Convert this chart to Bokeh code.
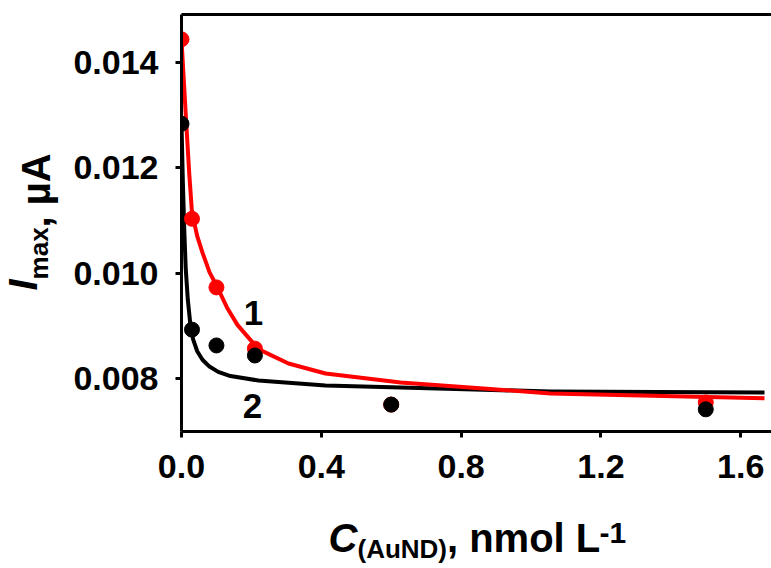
import math
from bokeh.plotting import figure
from bokeh.models import Range1d, FixedTicker, LinearAxis, Label
from bokeh.layouts import row, column
from bokeh.embed import file_html
from bokeh.resources import INLINE

# ---- data ----
conc = [0, 0.03, 0.1, 0.21, 0.6, 1.5]
imax_1 = [0.01443, 0.01103, 0.00973, 0.00857, 0.00751, 0.00755]   # red, series 1
imax_2 = [0.01283, 0.00893, 0.00863, 0.00844, 0.00751, 0.00742]   # black, series 2

fit1_x = [0, 0.007, 0.014, 0.022, 0.030, 0.045, 0.060, 0.080, 0.103, 0.130, 0.160,
          0.220, 0.306, 0.412, 0.627, 0.864, 1.056, 1.668]
fit1_y = [0.014426, 0.013600, 0.012800, 0.011900, 0.011150, 0.010700, 0.010390, 0.010020,
          0.009728, 0.009350, 0.009020, 0.008560, 0.008288, 0.008099, 0.007928, 0.007815,
          0.007720, 0.007631]
fit2_x = [0, 0.004, 0.008, 0.012, 0.018, 0.025, 0.033, 0.045, 0.060, 0.080, 0.105, 0.140,
          0.220, 0.412, 0.627, 1.056, 1.668]
fit2_y = [0.012835, 0.011700, 0.010800, 0.010100, 0.009500, 0.009050, 0.008750, 0.008520,
          0.008360, 0.008230, 0.008130, 0.008050, 0.007966, 0.007871, 0.007834, 0.007758,
          0.007739]

x_ticks = [0, 0.4, 0.8, 1.2, 1.6]
x_tick_labels = ["0.0", "0.4", "0.8", "1.2", "1.6"]
y_ticks = [0.008, 0.010, 0.012, 0.014]
y_tick_labels = ["0.008", "0.010", "0.012", "0.014"]

FONT = "Liberation Sans"
RED = "#ff0000"
BLACK = "#000000"

# ---------------- main plot ----------------
p = figure(width=711, height=500, output_backend="svg", toolbar_location=None,
           x_range=Range1d(0, 1.688), y_range=Range1d(0.0070, 0.0149),
           min_border_left=121, min_border_right=0, min_border_top=14, min_border_bottom=69,
           background_fill_color="white", border_fill_color="white")
p.outline_line_color = None
p.xgrid.visible = False
p.ygrid.visible = False

for ax in (p.xaxis[0], p.yaxis[0]):
    ax.axis_line_width = 3
    ax.axis_line_color = BLACK
    ax.major_tick_line_width = 3
    ax.major_tick_line_color = BLACK
    ax.major_tick_out = 6
    ax.major_tick_in = 0
    ax.minor_tick_line_color = None
    ax.major_label_text_font = FONT
    ax.major_label_text_font_style = "bold"
    ax.major_label_text_font_size = "34px"
    ax.major_label_text_color = BLACK

p.xaxis[0].ticker = FixedTicker(ticks=x_ticks)
p.xaxis[0].major_label_overrides = {t: l for t, l in zip(x_ticks, x_tick_labels)}
p.xaxis[0].major_label_standoff = 17
p.yaxis[0].ticker = FixedTicker(ticks=y_ticks)
p.yaxis[0].major_label_overrides = {t: l for t, l in zip(y_ticks, y_tick_labels)}
p.yaxis[0].major_label_standoff = 17
p.yaxis[0].major_label_orientation = "horizontal"

top = LinearAxis(ticker=FixedTicker(ticks=[]), axis_line_width=3, axis_line_color=BLACK,
                 major_tick_line_color=None, minor_tick_line_color=None,
                 major_label_text_font_size="0px")
p.add_layout(top, "above")

# fitted curves
p.line(fit2_x, fit2_y, line_color=BLACK, line_width=4, line_join="round")
p.line(fit1_x, fit1_y, line_color=RED, line_width=4, line_join="round")
# points
p.scatter(conc, imax_1, size=15, fill_color=RED, line_color=RED)
p.scatter(conc, imax_2, size=15, fill_color=BLACK, line_color=BLACK)

# curve labels
p.add_layout(Label(x=0.206, y=0.009254, text="1", text_font=FONT, text_font_style="bold",
                   text_font_size="35px", text_align="center", text_baseline="alphabetic",
                   text_color=BLACK))
p.add_layout(Label(x=0.203, y=0.007492, text="2", text_font=FONT, text_font_style="bold",
                   text_font_size="35px", text_align="center", text_baseline="alphabetic",
                   text_color=BLACK))


def helper(w, h, xr):
    f = figure(width=w, height=h, output_backend="svg", toolbar_location=None,
               x_range=xr, y_range=Range1d(0, h),
               min_border=0, x_axis_location=None, y_axis_location=None,
               background_fill_color="white", border_fill_color="white")
    f.outline_line_color = None
    f.grid.visible = False
    return f


def lab(f, x, y, text, size, style="bold", angle=0.0):
    f.add_layout(Label(x=x, y=y, text=text, text_font=FONT, text_font_style=style,
                       text_font_size=size, text_align="left", text_baseline="alphabetic",
                       angle=angle, text_color=BLACK))


# ---------------- y-axis title: I_max, µA ----------------
left = helper(60, 568, Range1d(0, 60))
a = math.pi / 2
lab(left, 22.2, 278.0, "I", "40px", "bold italic", a)
lab(left, 38.4, 289.1, "max", "26px", "bold", a)
lab(left, 35.2, 341.1, ", µA", "40px", "bold", a)

# ---------------- x-axis title: C_(AuND), nmol L^-1 ----------------
# the frame of this strip lines up with the main plot's frame (page x 181..771)
bottom = helper(711, 68, Range1d(181, 771))
lab(bottom, 328.0, 30.8, "C", "40px", "bold italic")
lab(bottom, 357.0, 19.6, "(AuND)", "26px", "bold")
lab(bottom, 446.4, 30.8, ", nmol L", "40px", "bold")
lab(bottom, 599.0, 35.1, "-1", "30px", "bold")

layout = row(left, column(p, bottom, spacing=0), spacing=0)
open("out.html", "w").write(file_html(layout, INLINE))
